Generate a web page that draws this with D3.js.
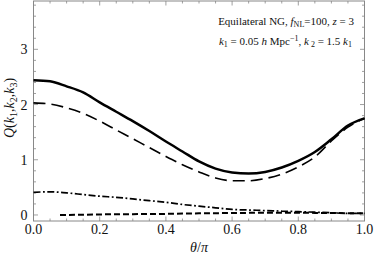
<!DOCTYPE html>
<html><head><meta charset="utf-8">
<script src="https://cdn.jsdelivr.net/npm/d3@7"></script>
<style>body{margin:0;background:#fff}svg{display:block}text{font-family:"Liberation Serif","DejaVu Serif",serif;fill:#111}</style>
</head><body>
<script>
// data
const thetaGrid = [0,0.05,0.1,0.15,0.2,0.25,0.3,0.35,0.4,0.45,0.5,0.55,0.6,0.65,0.7,0.75,0.8,0.85,0.9,0.95,1.0];
const totalQ   = [2.44,2.42,2.33,2.22,2.04,1.87,1.70,1.52,1.33,1.15,0.97,0.84,0.77,0.75,0.78,0.86,0.98,1.14,1.37,1.62,1.75];
const longDashQ= [2.03,2.01,1.94,1.84,1.70,1.54,1.38,1.22,1.06,0.91,0.78,0.67,0.62,0.62,0.66,0.74,0.87,1.05,1.34,1.59,1.75];
const dotDashQ = [0.41,0.42,0.40,0.37,0.34,0.32,0.29,0.26,0.23,0.19,0.16,0.13,0.10,0.09,0.08,0.07,0.06,0.05,0.04,0.03,0.03];
const shortTheta = [0.08,0.15,0.2,0.3,0.4,0.5,0.6,0.7,0.8,0.9,1.0];
const shortDashQ = [0.0,0.005,0.01,0.015,0.02,0.03,0.035,0.04,0.04,0.035,0.03];
const xTickLabels = ["0.0","0.2","0.4","0.6","0.8","1.0"];
const yTickLabels = ["0","1","2","3"];

const W=374,H=260;
const svg=d3.select("body").append("svg").attr("width",W).attr("height",H);
const x=d3.scaleLinear().domain([0,1]).range([33.5,364.5]);
const y=d3.scaleLinear().domain([-0.109,3.875]).range([221,1]);
const frame="#888";

// frame
svg.append("rect").attr("x",x(0)).attr("y",y(3.875)).attr("width",x(1)-x(0)).attr("height",y(-0.109)-y(3.875))
  .attr("fill","none").attr("stroke",frame).attr("stroke-width",1);

function ticks(){
  const g=svg.append("g").attr("stroke",frame).attr("stroke-width",0.8);
  for(let i=0;i<=20;i++){const v=i*0.05, major=(i%4===0), L=major?4.5:2.5, px=x(v);
    g.append("line").attr("x1",px).attr("x2",px).attr("y1",y(-0.109)).attr("y2",y(-0.109)-L);
    g.append("line").attr("x1",px).attr("x2",px).attr("y1",y(3.875)).attr("y2",y(3.875)+L);}
  for(let i=0;i<=19;i++){const v=i*0.2, major=(i%5===0), L=major?4.5:2.5, py=y(v);
    g.append("line").attr("x1",x(0)).attr("x2",x(0)+L).attr("y1",py).attr("y2",py);
    g.append("line").attr("x1",x(1)).attr("x2",x(1)-L).attr("y1",py).attr("y2",py);}
}
ticks();

xTickLabels.forEach((t,i)=>svg.append("text").attr("x",x(+t)).attr("y",234).attr("text-anchor","middle")
  .attr("font-size",14).text(t));
yTickLabels.forEach((t)=>svg.append("text").attr("x",x(0)-6).attr("y",y(+t)+5).attr("text-anchor","end")
  .attr("font-size",14).text(t));

// axis titles
const xt=svg.append("text").attr("x",199).attr("y",252).attr("text-anchor","middle").attr("font-size",14);
xt.append("tspan").attr("font-style","italic").text("θ");
xt.append("tspan").text("/");
xt.append("tspan").attr("font-style","italic").text("π");

const yt=svg.append("text").attr("transform","translate(14,108) rotate(-90)").attr("text-anchor","middle").attr("font-size",14);
yt.append("tspan").attr("font-style","italic").text("Q");
yt.append("tspan").text("(");
[["1",","],["2",","],["3",")"]].forEach(([s,after])=>{
  yt.append("tspan").attr("font-style","italic").text("k");
  yt.append("tspan").attr("font-size",10).attr("dy",3).text(s);
  yt.append("tspan").attr("dy",-3).text(after);
});

// annotation
const a1=svg.append("text").attr("x",354).attr("y",25).attr("text-anchor","end").attr("font-size",11);
a1.append("tspan").text("Equilateral NG, ");
a1.append("tspan").attr("font-style","italic").text("f");
a1.append("tspan").attr("font-size",8).attr("dy",2).text("NL");
a1.append("tspan").attr("dy",-2).text("=100, ");
a1.append("tspan").attr("font-style","italic").text("z");
a1.append("tspan").text(" = 3");

const a2=svg.append("text").attr("x",352).attr("y",45).attr("text-anchor","end").attr("font-size",11);
a2.append("tspan").attr("font-style","italic").text("k");
a2.append("tspan").attr("font-size",8).attr("dy",2).text("1");
a2.append("tspan").attr("dy",-2).text(" = 0.05 ");
a2.append("tspan").attr("font-style","italic").text("h");
a2.append("tspan").text(" Mpc");
a2.append("tspan").attr("font-size",8).attr("dy",-4).text("−1");
a2.append("tspan").attr("dy",4).text(", ");
a2.append("tspan").attr("font-style","italic").text("k");
a2.append("tspan").attr("font-size",8).attr("dy",2).text(" 2");
a2.append("tspan").attr("dy",-2).text(" = 1.5 ");
a2.append("tspan").attr("font-style","italic").text("k");
a2.append("tspan").attr("font-size",8).attr("dy",2).text("1");

// curves
const line=d3.line().x(d=>x(d[0])).y(d=>y(d[1])).curve(d3.curveMonotoneX);
const plotG=svg.append("g").attr("fill","none").attr("stroke","#000");
plotG.append("path").datum(d3.zip(shortTheta,shortDashQ)).attr("d",line).attr("stroke-width",2).attr("stroke-dasharray","6,3");
plotG.append("path").datum(d3.zip(thetaGrid,dotDashQ)).attr("d",line).attr("stroke-width",1.7).attr("stroke-dasharray","7,2.5,1.8,2.5");
plotG.append("path").datum(d3.zip(thetaGrid,longDashQ)).attr("d",line).attr("stroke-width",1.6).attr("stroke-dasharray","12,6");
plotG.append("path").datum(d3.zip(thetaGrid,totalQ)).attr("d",line).attr("stroke-width",2.5);
</script>
</body></html>
